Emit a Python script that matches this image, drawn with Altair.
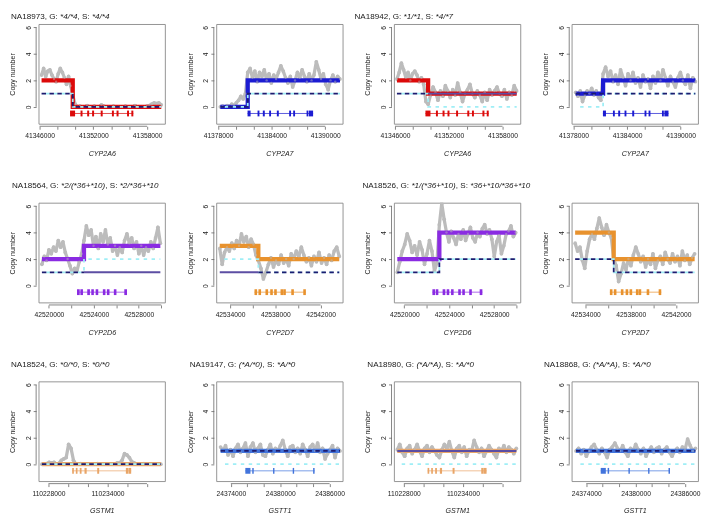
import altair as alt
import numpy as np
import pandas as pd

FONT = "Liberation Sans"
GRAY = "#bcbcbc"
NAVY = "#1c1c70"
CYAN = "#9feef6"
SLATE = "#5c4ea3"

# ---------------- gene regions ----------------
GENE_COLOR = {"CYP2A6": "#dc0a0a", "CYP2A7": "#1c1cd2", "CYP2D6": "#8a2be2",
              "CYP2D7": "#e8922e", "GSTM1": "#e9a567", "GSTT1": "#4274dc"}
X_DOMAIN = {"CYP2A6": [41345890, 41359990], "CYP2A7": [41377800, 41391950],
            "CYP2D6": [42519080, 42530330], "CYP2D7": [42532785, 42543950],
            "GSTM1": [110227000, 110239830], "GSTT1": [24372230, 24387590]}
DATA_SPAN = {"CYP2A6": [41346220, 41359580], "CYP2A7": [41378250, 41391650],
             "CYP2D6": [42519375, 42529920], "CYP2D7": [42533090, 42543650],
             "GSTM1": [110227333, 110239420], "GSTT1": [24372750, 24387270]}
STEP_AT = {"CYP2A6": 41349700, "CYP2A7": 41381320, "CYP2D6": 42523120, "CYP2D7": 42536500}
X_TICKS = {
    "CYP2A6": [41346000, 41348000, 41350000, 41352000, 41354000, 41356000, 41358000],
    "CYP2A7": [41378000, 41380000, 41382000, 41384000, 41386000, 41388000, 41390000],
    "CYP2D6": [42520000, 42522000, 42524000, 42526000, 42528000, 42530000],
    "CYP2D7": [42534000, 42536000, 42538000, 42540000, 42542000],
    "GSTM1": [110228000, 110230000, 110232000, 110234000, 110236000, 110238000],
    "GSTT1": [24374000, 24376000, 24378000, 24380000, 24382000, 24384000, 24386000],
}
X_LABELS = {
    "CYP2A6": [41346000, 41352000, 41358000],
    "CYP2A7": [41378000, 41384000, 41390000],
    "CYP2D6": [42520000, 42524000, 42528000],
    "CYP2D7": [42534000, 42538000, 42542000],
    "GSTM1": [110228000, 110234000],
    "GSTT1": [24374000, 24380000, 24386000],
}
EXONS = {
    "CYP2A6": [(41349400, 41349960), (41350570, 41350790), (41351310, 41351530), (41351860, 41352080),
               (41352820, 41353040), (41354070, 41354290), (41354590, 41354810), (41355760, 41355980),
               (41356240, 41356460)],
    "CYP2A7": [(41381300, 41381640), (41382420, 41382630), (41383010, 41383230), (41383720, 41383930),
               (41384580, 41384800), (41385960, 41386170), (41386410, 41386620), (41387910, 41388120),
               (41388180, 41388640)],
    "CYP2D6": [(42522500, 42522740), (42522800, 42523030), (42523410, 42523650), (42523770, 42524000),
               (42524160, 42524390), (42524800, 42525030), (42525160, 42525390), (42525780, 42526010),
               (42526710, 42526950)],
    "CYP2D7": [(42536160, 42536390), (42536510, 42536740), (42537130, 42537360), (42537550, 42537780),
               (42537900, 42538130), (42538460, 42538690), (42538700, 42538930), (42539410, 42539640),
               (42540470, 42540700)],
    "GSTM1": [(110230410, 110230580), (110230780, 110230950), (110231180, 110231360), (110231660, 110231880),
              (110232950, 110233150), (110235860, 110236110), (110236130, 110236400)],
    "GSTT1": [(24375760, 24376380), (24376600, 24376780), (24379130, 24379300), (24381520, 24381690),
              (24384000, 24384180)],
}

Y_DOMAIN = [-1.28, 6.25]
Y_TICKS = [0, 2, 4, 6]

# ---------------- samples / panels (row-major) ----------------
PANEL_SAMPLE = ["NA18973", "NA18973", "NA18942", "NA18942",
                "NA18564", "NA18564", "NA18526", "NA18526",
                "NA18524", "NA19147", "NA18980", "NA18868"]
PANEL_GENE = ["CYP2A6", "CYP2A7", "CYP2A6", "CYP2A7",
              "CYP2D6", "CYP2D7", "CYP2D6", "CYP2D7",
              "GSTM1", "GSTT1", "GSTM1", "GSTT1"]
TITLE_G = ["*4/*4", None, "*1/*1", None,
           "*2/(*36+*10)", None, "*1/(*36+*10)", None,
           "*0/*0", "(*A/*0)", "(*A/*A)", "(*A/*A)"]
TITLE_S = ["*4/*4", None, "*4/*7", None,
           "*2/*36+*10", None, "*36+*10/*36+*10", None,
           "*0/*0", "*A/*0", "*A/*0", "*A/*0"]
TITLE_DX = [-28, None, -40, None, -27, None, -32, None, -28, -27, -27, -28]
TITLE_DY = [-5.3, None, -5.3, None, -14.5, None, -14.5, None, -14.5, -14.5, -14.5, -14.5]

# copy-number step levels: [before step, after step] or [whole region]
TOTAL = [[2, 0], [0, 2], [2, 1], [1, 2], [2, 3], [3, 2], [2, 4], [4, 2], [0], [1], [1], [1]]
HAP1 = [[1, 0], [0, 1], [1, None], [1, 1], [1, None], [None, 1], [1, 2], [2, 1], [0], [1], None, [1]]
HAP2 = [[1, 0], [0, 1], [1, 0], [0, 1], [1, 2], [2, 1], [1, 2], [2, 1], [0], [0], [0], [0]]
SOLID = [None, None, [None, 1], None, [None, 1], [1, None], None, None, None, None, [1], None]

# ---------------- read depth derived copy numbers (grey points) ----------------
GRAY_PRE = [
    [2.4, 2.9, 2.3, 2.7, 2.8, 2.4, 2.1, 1.9, 2.5, 2.9, 2.6, 2.2, 1.7, 2.3, 1.6],
    [0.0, 0.05, 0.0, 0.1, 0.0, 0.2, 0.1, 0.3, 0.5, 0.8, 0.6, 1.0],
    [2.1, 2.6, 3.3, 2.8, 2.2, 2.6, 2.0, 2.5, 2.7, 2.4, 1.9, 2.2, 1.7, 0.4],
    [1.1, 0.8, 1.2, 0.4, 0.9, 1.2, 1.0, 1.4, 0.9, 1.2, 0.7, 0.5],
    [1.6, 2.2, 1.9, 2.7, 2.4, 2.9, 2.6, 3.4, 2.9, 3.3, 2.5, 2.0, 1.5, 0.9, 1.3, 1.1, 1.8, 2.4],
    [2.8, 1.6, 2.5, 2.9, 2.6, 3.2, 2.8, 3.4, 3.0, 3.9, 3.3, 3.7, 2.9, 3.5, 3.1, 2.3],
    [1.0, 1.8, 2.6, 3.1, 3.9, 3.4, 2.5, 3.0, 2.3, 3.3, 2.7, 1.6, 2.4, 3.4, 2.6, 1.1, 1.7],
    [3.2, 2.6, 2.9, 1.9, 1.3, 2.6, 3.5, 3.9, 3.5, 4.3, 5.1, 4.4, 3.8, 4.6, 4.0, 3.6],
    [0, 0, 0.05, 0.15, 0.1, 0.15, 0, 0.05, 0.3, 0.4, 0.5, 1.5, 1.2, 0.3, 0, 0, 0.05, 0, 0, 0, 0, 0, 0,
     0.05, 0, 0, 0, 0, 0, 0, 0, 0.1, 0.1, 0.3, 0.8, 0.7, 0.5, 0.2, 0.1, 0, 0, 0, 0.05, 0, 0, 0, 0, 0, 0, 0],
    [1.3, 1.0, 1.4, 0.7, 1.1, 0.6, 1.2, 1.5, 0.9, 1.2, 1.6, 0.6, 1.3, 1.6, 0.9, 1.2, 1.5, 0.7, 0.6, 1.1,
     1.5, 0.8, 1.2, 1.0, 1.4, 1.8, 1.1, 0.6, 1.3, 1.4, 0.9, 1.2, 0.8, 1.5, 1.1, 0.6, 1.3, 1.5, 1.0, 1.6,
     0.9, 1.2, 0.4, 0.8, 1.1, 1.4, 0.5, 1.2, 1.0],
    [1.1, 1.5, 0.9, 0.6, 1.2, 1.4, 0.8, 1.1, 1.5, 1.0, 0.6, 1.2, 1.4, 0.9, 1.3, 1.0, 0.7, 0.5, 1.1, 1.5,
     1.2, 1.7, 1.0, 0.5, 1.2, 1.4, 0.9, 1.3, 0.6, 1.1, 1.0, 1.8, 1.3, 0.9, 1.2, 0.6, 1.0, 1.4, 1.1, 0.8,
     0.5, 1.2, 1.0, 1.4, 0.9, 1.3, 1.1, 0.8, 1.2],
    [1.0, 1.2, 0.8, 1.1, 0.6, 1.0, 1.3, 1.5, 1.1, 0.8, 1.2, 0.9, 0.5, 1.1, 1.3, 1.6, 1.2, 1.0, 1.4, 0.9,
     0.6, 1.2, 1.0, 1.5, 1.1, 0.8, 1.2, 0.6, 1.0, 1.3, 0.9, 1.2, 1.3, 0.8, 1.1, 1.3, 0.9, 0.6, 1.0, 1.2,
     0.9, 1.3, 1.1, 1.9, 1.4, 1.0, 1.2],
]
GRAY_POST = [
    [0.9, 0.2, 0.0, 0.05, 0.0, 0.0, 0.1, 0.0, 0.0, 0.05, 0.0, 0.0, 0.15, 0.05, 0.0, 0.0, 0.0, 0.05, 0.0,
     0.0, 0.0, 0.0, 0.05, 0.0, 0.0, 0.0, 0.1, 0.0, 0.0, 0.0, 0.0, 0.05, 0.1, 0.2, 0.3, 0.25, 0.3, 0.15],
    [2.6, 2.9, 2.2, 2.7, 1.9, 2.6, 2.3, 2.8, 2.0, 2.5, 1.8, 2.4, 2.1, 2.6, 3.1, 2.7, 2.2, 1.8, 2.3, 1.5,
     2.0, 2.6, 2.2, 2.8, 2.3, 1.9, 2.5, 2.0, 2.4, 3.4, 2.8, 2.1, 2.5, 1.7, 1.3, 2.0, 2.4, 1.9, 2.3, 2.1],
    [0.2, 0.9, 1.5, 1.1, 0.5, 1.2, 0.8, 1.6, 1.2, 0.7, 1.3, 0.9, 1.8, 1.1, 0.4, 1.0, 1.3, 1.7, 1.0, 0.7,
     1.2, 0.9, 0.4, 1.1, 0.5, 1.3, 0.9, 1.2, 1.5, 1.0, 0.8, 1.3, 0.6, 1.1, 0.9, 1.6, 1.2],
    [2.5, 3.0, 2.3, 2.7, 1.9, 2.4, 1.7, 2.8, 2.2, 1.6, 2.5, 2.0, 2.6, 1.8, 2.2, 1.5, 2.4, 1.9, 2.1, 1.4,
     2.3, 1.8, 2.6, 2.0, 2.8, 2.2, 1.6, 2.3, 1.9, 1.5, 2.2, 2.6, 2.0, 1.7, 2.4, 1.4, 2.2, 1.9],
    [3.4, 4.5, 3.8, 4.2, 3.0, 3.7, 2.8, 3.9, 3.3, 4.2, 3.1, 3.6, 2.6, 3.0, 2.3, 2.9, 2.5, 3.4, 3.9, 3.2,
     3.6, 2.8, 3.3, 2.4, 3.0, 2.3, 2.9, 2.6, 3.3, 2.8, 3.6, 4.4, 3.2],
    [1.9, 1.3, 0.5, 1.0, 1.6, 2.1, 1.4, 1.9, 1.6, 2.3, 1.7, 2.0, 1.5, 2.4, 2.0, 2.6, 2.2, 2.9, 2.3, 1.8,
     2.1, 1.5, 2.2, 1.8, 2.5, 1.7, 2.1, 1.6, 2.3, 1.9, 2.6, 2.9, 2.2],
    [4.6, 6.2, 5.0, 4.0, 3.3, 4.1, 3.6, 3.1, 3.9, 3.5, 4.2, 3.4, 3.9, 4.4, 3.6, 3.3, 4.0, 3.7, 4.3, 4.6,
     3.9, 4.2, 3.5, 2.2, 3.3, 3.8, 2.4, 3.0, 3.9, 4.1, 4.5, 3.7, 4.0],
    [2.0, 1.5, 0.3, 0.9, 1.7, 1.2, 2.0, 1.5, 2.3, 2.9, 2.4, 1.8, 2.2, 1.4, 2.0, 1.6, 2.4, 1.3, 1.9, 2.2,
     1.6, 2.5, 2.0, 1.7, 2.4, 1.8, 2.2, 1.5, 2.6, 1.9, 2.3, 1.6, 2.1, 2.4],
    None, None, None, None,
]

W, H = 128, 101
CHAR_W = {"N": .722, "A": .667, "G": .778, "S": .667, ",": .278, " ": .278, ":": .278,
          "*": .389, "/": .278, "(": .333, ")": .333, "+": .584}
TITLE_SIZE = 8.2


def text_width(s):
    return sum(CHAR_W.get(ch, .556) for ch in s) * TITLE_SIZE


def level_rows(spec, gene):
    x0, x1 = DATA_SPAN[gene]
    if spec is None:
        return []
    if len(spec) == 1:
        return [(x0, spec[0]), (x1, spec[0])]
    b, a = spec
    s = STEP_AT[gene]
    if b is not None and a is not None:
        return [(x0, b), (s, a), (x1, a)]
    if b is not None:
        return [(x0, b), (s, b)]
    return [(s, a), (x1, a)]


def make_panel(i):
    gene = PANEL_GENE[i]
    col = GENE_COLOR[gene]
    x0, x1 = DATA_SPAN[gene]
    xs = alt.Scale(domain=X_DOMAIN[gene], nice=False, zero=False)
    ys = alt.Scale(domain=Y_DOMAIN, nice=False, zero=False)
    labs = ",".join(str(v) for v in X_LABELS[gene])
    xaxis = alt.Axis(values=X_TICKS[gene], format="d",
                     labelExpr=f"indexof([{labs}], datum.value) >= 0 ? datum.label : ''",
                     title=gene, titleFontStyle="italic", offset=2.5, tickSize=3,
                     labelPadding=3.8, titlePadding=10, labelFlush=False, labelOverlap=False,
                     domain=False, grid=False)
    yaxis = alt.Axis(values=Y_TICKS, title="Copy number", labelAngle=270, labelAlign="center",
                     labelBaseline="bottom", offset=2.5, tickSize=3, labelPadding=2,
                     titlePadding=9, domain=False, grid=False, labelFlush=False,
                     labelOverlap=False)

    def X(f):
        return alt.X(f, scale=xs, axis=xaxis)

    def Y(f):
        return alt.Y(f, scale=ys, axis=yaxis)

    # grey points
    if GRAY_POST[i] is None:
        gx = np.linspace(x0, x1, len(GRAY_PRE[i]))
        gy = GRAY_PRE[i]
    else:
        s = STEP_AT[gene]
        gx = np.concatenate([np.linspace(x0, s, len(GRAY_PRE[i]), endpoint=False),
                             np.linspace(s, x1, len(GRAY_POST[i]))])
        gy = list(GRAY_PRE[i]) + list(GRAY_POST[i])
    gdf = pd.DataFrame({"x": gx, "y": gy})

    layers = []
    layers.append(alt.Chart(gdf).mark_line(color=GRAY, strokeWidth=3.3, strokeJoin="round",
                                           clip=True).encode(x=X("x:Q"), y=Y("y:Q")))
    layers.append(alt.Chart(gdf).mark_circle(color=GRAY, size=14, opacity=1, clip=True).encode(
        x=X("x:Q"), y=Y("y:Q")))

    def line_layer(spec, **mk):
        rows = level_rows(spec, gene)
        if not rows:
            return None
        df = pd.DataFrame(rows, columns=["x", "y"])
        return alt.Chart(df).mark_line(interpolate="step-after", clip=True, **mk).encode(
            x=X("x:Q"), y=Y("y:Q"))

    layers.append(line_layer(TOTAL[i], color=col, strokeWidth=4.3, strokeCap="butt"))
    layers.append(alt.Chart(gdf).mark_circle(color=GRAY, size=6, opacity=0.45, clip=True).encode(
        x=X("x:Q"), y=Y("y:Q")))
    for spec, mk in [
        (HAP2[i], dict(color=CYAN, strokeWidth=1.8, strokeDash=[3.5, 4.5], strokeDashOffset=3.5)),
        (HAP1[i], dict(color=NAVY, strokeWidth=1.8, strokeDash=[4.5, 3.5], blend="multiply")),
        (SOLID[i], dict(color=SLATE, strokeWidth=1.9, blend="multiply")),
    ]:
        lyr = line_layer(spec, **mk)
        if lyr is not None:
            layers.append(lyr)

    # gene model
    ex = EXONS[gene]
    gl = pd.DataFrame({"s": [ex[0][0]], "e": [ex[-1][1]], "y": [-0.5]})
    layers.append(alt.Chart(gl).mark_rule(color=col, strokeWidth=0.9, opacity=0.8).encode(
        x=X("s:Q"), x2="e:Q", y=Y("y:Q")))
    edf = pd.DataFrame({"s": [a for a, b in ex], "e": [b for a, b in ex]})
    edf["y0"] = -0.5 - 0.22
    edf["y1"] = -0.5 + 0.22
    layers.append(alt.Chart(edf).mark_rect(color=col).encode(
        x=X("s:Q"), x2="e:Q", y=Y("y0:Q"), y2="y1:Q"))

    # R-style axis lines spanning first to last tick
    xr = pd.DataFrame({"a": [X_TICKS[gene][0]], "b": [X_TICKS[gene][-1]]})
    layers.append(alt.Chart(xr).mark_rule(color="#666", strokeWidth=0.8).encode(
        x=X("a:Q"), x2="b:Q", y=alt.value(H + 2.5)))
    yr = pd.DataFrame({"a": [Y_TICKS[0]], "b": [Y_TICKS[-1]]})
    layers.append(alt.Chart(yr).mark_rule(color="#666", strokeWidth=0.8).encode(
        y=Y("a:Q"), y2="b:Q", x=alt.value(-2.5)))

    # title with italic allele calls
    if TITLE_G[i] is not None:
        segs = [(f"{PANEL_SAMPLE[i]}, G: ", "normal"), (TITLE_G[i], "italic"),
                (", S: ", "normal"), (TITLE_S[i], "italic")]
        px = TITLE_DX[i]
        for txt, st in segs:
            layers.append(alt.Chart(pd.DataFrame({"k": [0]})).mark_text(
                text=txt, align="left", baseline="alphabetic", font=FONT,
                fontSize=TITLE_SIZE, fontStyle=st, color="#1a1a1a").encode(
                x=alt.value(px), y=alt.value(TITLE_DY[i])))
            px += text_width(txt)

    return alt.layer(*layers).properties(width=W, height=H)


chart = alt.concat(*[make_panel(i) for i in range(12)], columns=4,
                   spacing={"row": 80, "column": 52}, bounds="flush").properties(
    padding={"left": 0, "top": 0, "right": 0, "bottom": 0}
).configure_view(stroke="#888888", strokeWidth=0.9).configure_axis(
    labelFont=FONT, titleFont=FONT, labelFontSize=6.8, titleFontSize=7.2,
    labelColor="#222222", titleColor="#222222", tickColor="#666666", tickWidth=0.8,
    titleFontWeight="normal")

chart.save("out.html", embed_options={"renderer": "svg", "actions": False})
